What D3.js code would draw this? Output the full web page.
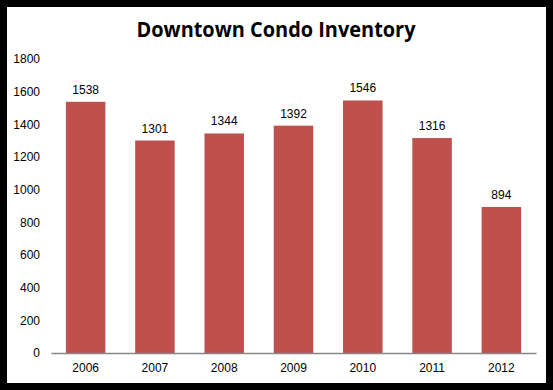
<!DOCTYPE html>
<html>
<head>
<meta charset="utf-8">
<script src="https://cdn.jsdelivr.net/npm/d3@7"></script>
<style>
  body { margin: 0; background: #000; }
  svg { display: block; }
</style>
</head>
<body>
<svg id="chart" width="553" height="390"></svg>
<script>
'use strict';

var years = ['2006', '2007', '2008', '2009', '2010', '2011', '2012'];
var inventory = [1538, 1301, 1344, 1392, 1546, 1316, 894];
var yTicks = [0, 200, 400, 600, 800, 1000, 1200, 1400, 1600, 1800];

var svg = d3.select('#chart');
var width = 553;
var height = 390;
var font = '"Liberation Sans", Arial, sans-serif';

// black frame with white panel inside
svg.append('rect')
    .attr('width', width)
    .attr('height', height)
    .attr('fill', '#000');
svg.append('rect')
    .attr('x', 7)
    .attr('y', 7)
    .attr('width', 539)
    .attr('height', 376)
    .attr('fill', '#fff');

var x = d3.scaleBand()
    .domain(years)
    .range([51, 536])
    .paddingInner(0.43)
    .paddingOuter(0.215);

var y = d3.scaleLinear()
    .domain([0, 1800])
    .range([353, 59]);

svg.append('text')
    .attr('x', 276)
    .attr('y', 37)
    .attr('text-anchor', 'middle')
    .attr('textLength', 279)
    .attr('lengthAdjust', 'spacingAndGlyphs')
    .style('font-family', '"Open Sans", ' + font)
    .style('font-weight', 'bold')
    .style('font-size', '21px')
    .text('Downtown Condo Inventory');

var yAxis = svg.append('g')
    .attr('transform', 'translate(40,0)')
    .call(d3.axisLeft(y).tickValues(yTicks).tickFormat(d3.format('d')).tickSize(0).tickPadding(0));
yAxis.select('.domain').remove();
yAxis.selectAll('text')
    .style('font-family', font)
    .style('font-size', '12px')
    .attr('fill', '#000');

svg.selectAll('.bar')
    .data(inventory)
    .enter().append('rect')
    .attr('class', 'bar')
    .attr('x', function(d, i) { return x(years[i]); })
    .attr('y', function(d) { return y(d); })
    .attr('width', x.bandwidth())
    .attr('height', function(d) { return y(0) - y(d); })
    .attr('fill', '#C0504D');

svg.selectAll('.value')
    .data(inventory)
    .enter().append('text')
    .attr('class', 'value')
    .attr('x', function(d, i) { return x(years[i]) + x.bandwidth() / 2; })
    .attr('y', function(d) { return y(d) - 8; })
    .attr('text-anchor', 'middle')
    .style('font-family', font)
    .style('font-size', '12px')
    .text(function(d) { return d; });

var xAxis = svg.append('g')
    .attr('transform', 'translate(0,' + y(0) + ')')
    .call(d3.axisBottom(x).tickSize(0).tickPadding(10));
xAxis.select('.domain')
    .attr('stroke', '#868686')
    .attr('stroke-width', 1.5);
xAxis.selectAll('text')
    .style('font-family', font)
    .style('font-size', '12px')
    .attr('fill', '#000');
</script>
</body>
</html>
